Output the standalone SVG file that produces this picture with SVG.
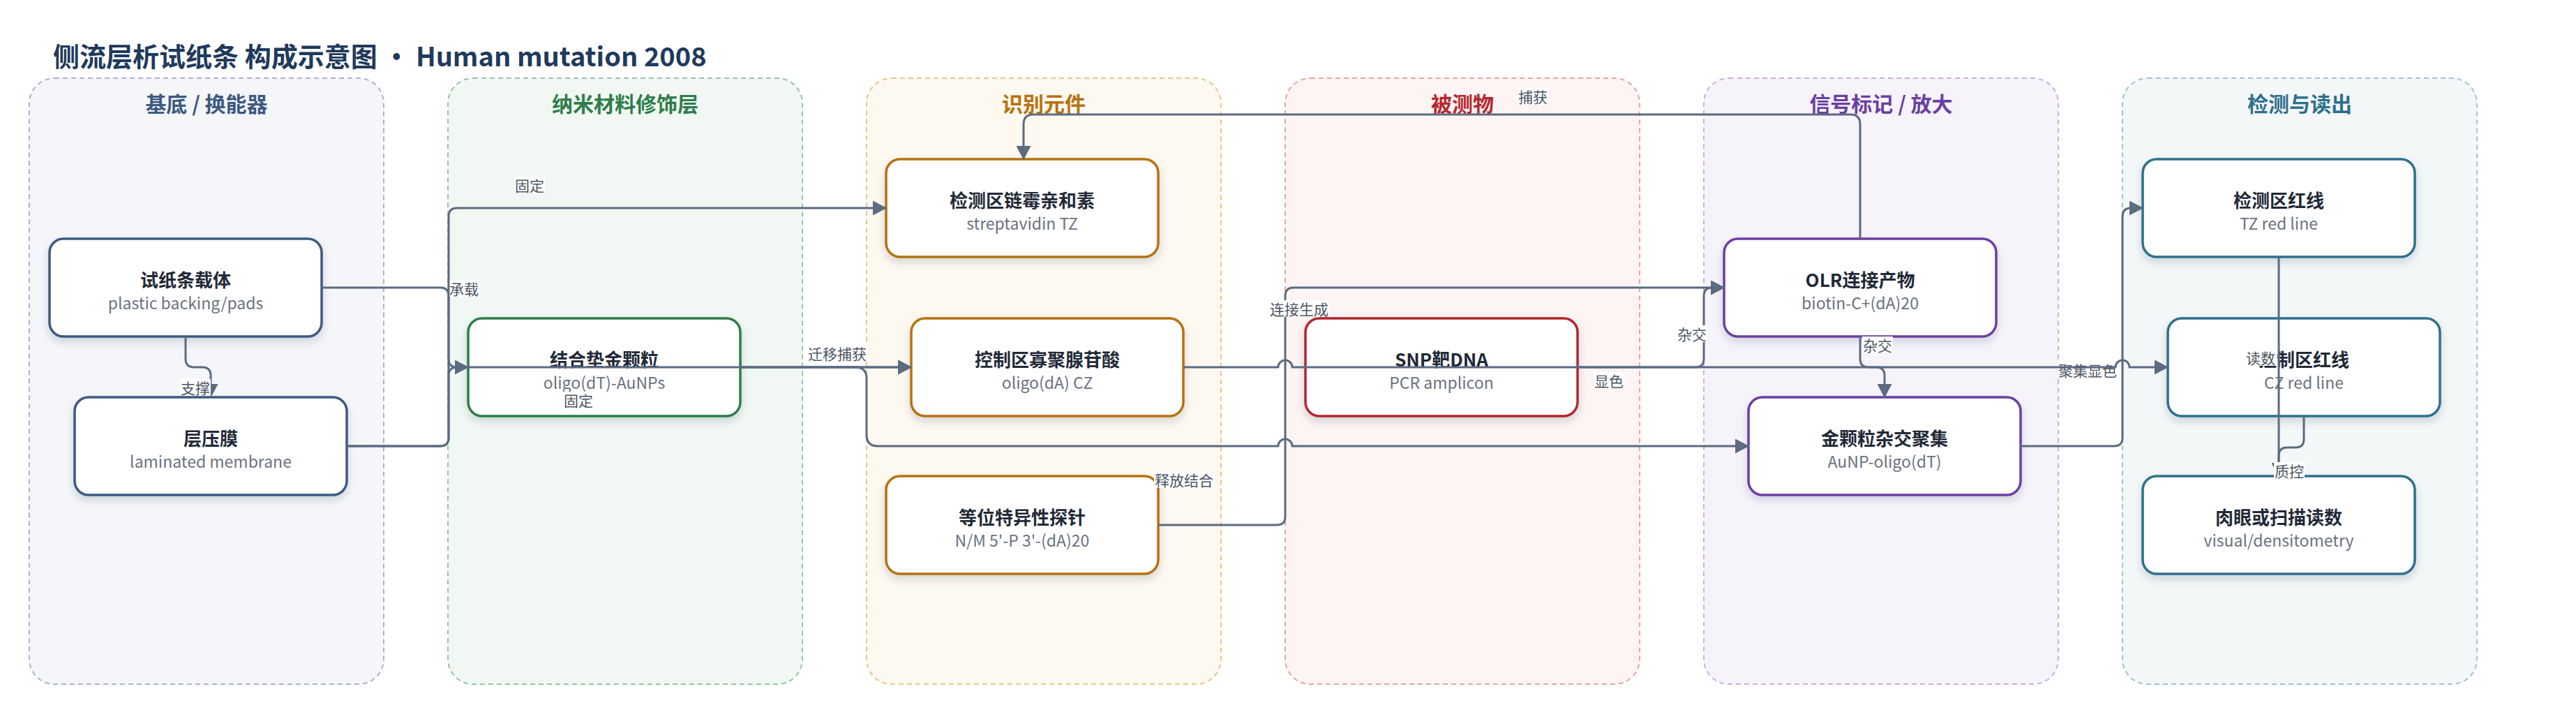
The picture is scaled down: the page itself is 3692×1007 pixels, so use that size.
<svg xmlns="http://www.w3.org/2000/svg" width="3692" height="1007" viewBox="0 0 3692 1007">
<defs>
<style>
text{font-family:"Noto Sans CJK SC","Noto Sans",sans-serif;}
.lane{stroke-width:2;stroke-dasharray:7 5;}
.lh{font-size:30px;font-weight:700;text-anchor:middle;dominant-baseline:central;}
.node rect{fill:#ffffff;stroke-width:3.5;filter:url(#sh);}
.t{font-size:26px;font-weight:700;fill:#1f2937;text-anchor:middle;dominant-baseline:central;}
.s{font-size:23px;fill:#6b7280;text-anchor:middle;dominant-baseline:central;}
.e{fill:none;stroke:#5b6b80;stroke-width:3;stroke-linejoin:round;}
.ea{marker-end:url(#ar);}
.lb rect{fill:#ffffff;}
.lb text{font-size:21px;fill:#4b5563;text-anchor:middle;dominant-baseline:central;}
</style>
<filter id="sh" x="-10%" y="-10%" width="120%" height="140%">
<feDropShadow dx="0" dy="6" stdDeviation="6" flood-color="#1e293b" flood-opacity="0.16"/>
</filter>
<marker id="ar" markerUnits="userSpaceOnUse" markerWidth="20" markerHeight="21" viewBox="0 0 20 21" refX="19" refY="10.5" orient="auto">
<path d="M0,0 L20,10.5 L0,21 z" fill="#5b6b80"/>
</marker>
</defs>
<rect width="3692" height="1007" fill="#ffffff"/>
<text x="76" y="78" font-size="38" font-weight="700" fill="#1f3a5c" dominant-baseline="central">侧流层析试纸条 构成示意图 · Human mutation 2008</text>

<g id="lanes">
<rect class="lane" x="42" y="112" width="508" height="868" rx="36" fill="#f4f6fa" stroke="#a9b5c8"/>
<text class="lh" x="296" y="147" fill="#3d5a80">基底 / 换能器</text>
<rect class="lane" x="642" y="112" width="508" height="868" rx="36" fill="#f1f8f3" stroke="#94c5a5"/>
<text class="lh" x="896" y="147" fill="#2e7d4a">纳米材料修饰层</text>
<rect class="lane" x="1242" y="112" width="508" height="868" rx="36" fill="#fdf8f0" stroke="#e9c68c"/>
<text class="lh" x="1496" y="147" fill="#b5720f">识别元件</text>
<rect class="lane" x="1842" y="112" width="508" height="868" rx="36" fill="#fdf4f3" stroke="#e8a3a3"/>
<text class="lh" x="2096" y="147" fill="#b3282d">被测物</text>
<rect class="lane" x="2442" y="112" width="508" height="868" rx="36" fill="#f7f3fb" stroke="#c9aee0"/>
<text class="lh" x="2696" y="147" fill="#6a3fa0">信号标记 / 放大</text>
<rect class="lane" x="3042" y="112" width="508" height="868" rx="36" fill="#f3f7f8" stroke="#9fc4d2"/>
<text class="lh" x="3296" y="147" fill="#2f6f8c">检测与读出</text>
</g>

<g id="node-backing" class="node"><rect x="71" y="342" width="390" height="140" rx="20" stroke="#3d5a80"/><text class="t" x="266" y="399">试纸条载体</text><text class="s" x="266" y="433">plastic backing/pads</text></g>
<g id="node-membrane" class="node"><rect x="107" y="569" width="390" height="140" rx="20" stroke="#3d5a80"/><text class="t" x="302" y="626">层压膜</text><text class="s" x="302" y="660">laminated membrane</text></g>
<g id="node-conjugate" class="node"><rect x="671" y="456" width="390" height="140" rx="20" stroke="#2e7d4a"/><text class="t" x="866" y="513">结合垫金颗粒</text><text class="s" x="866" y="547">oligo(dT)-AuNPs</text></g>
<g id="node-tz-sa" class="node"><rect x="1270" y="228" width="390" height="140" rx="20" stroke="#b5720f"/><text class="t" x="1465" y="285">检测区链霉亲和素</text><text class="s" x="1465" y="319">streptavidin TZ</text></g>
<g id="node-cz-oligo" class="node"><rect x="1306" y="456" width="390" height="140" rx="20" stroke="#b5720f"/><text class="t" x="1501" y="513">控制区寡聚腺苷酸</text><text class="s" x="1501" y="547">oligo(dA) CZ</text></g>
<g id="node-probe" class="node"><rect x="1270" y="682" width="390" height="140" rx="20" stroke="#b5720f"/><text class="t" x="1465" y="739">等位特异性探针</text><text class="s" x="1465" y="773">N/M 5'-P 3'-(dA)20</text></g>
<g id="node-snp" class="node"><rect x="1871" y="456" width="390" height="140" rx="20" stroke="#b3282d"/><text class="t" x="2066" y="513">SNP靶DNA</text><text class="s" x="2066" y="547">PCR amplicon</text></g>
<g id="node-olr" class="node"><rect x="2471" y="342" width="390" height="140" rx="20" stroke="#6a3fa0"/><text class="t" x="2666" y="399">OLR连接产物</text><text class="s" x="2666" y="433">biotin-C+(dA)20</text></g>
<g id="node-aggregate" class="node"><rect x="2506" y="569" width="390" height="140" rx="20" stroke="#6a3fa0"/><text class="t" x="2701" y="626">金颗粒杂交聚集</text><text class="s" x="2701" y="660">AuNP-oligo(dT)</text></g>
<g id="node-tz-line" class="node"><rect x="3071" y="228" width="390" height="140" rx="20" stroke="#2f6f8c"/><text class="t" x="3266" y="285">检测区红线</text><text class="s" x="3266" y="319">TZ red line</text></g>
<g id="node-cz-line" class="node"><rect x="3107" y="456" width="390" height="140" rx="20" stroke="#2f6f8c"/><text class="t" x="3302" y="513">控制区红线</text><text class="s" x="3302" y="547">CZ red line</text></g>
<g id="node-readout" class="node"><rect x="3071" y="682" width="390" height="140" rx="20" stroke="#2f6f8c"/><text class="t" x="3266" y="739">肉眼或扫描读数</text><text class="s" x="3266" y="773">visual/densitometry</text></g>

<g id="connectors">
<path class="e ea" d="M266,482 V514 Q266,526 278,526 H290 Q302,526 302,538 V569"/>
<g class="lb"><rect x="258" y="543" width="44" height="24"/><text x="280" y="555">支撑</text></g>
<path class="e ea" d="M461,412 H631 Q643,412 643,424 V514 Q643,526 655,526 H671"/>
<g class="lb"><rect x="643" y="401" width="44" height="24"/><text x="665" y="413">承载</text></g>
<path class="e ea" d="M497,639 H631 Q643,639 643,627 V310 Q643,298 655,298 H1270"/>
<g class="lb"><rect x="737" y="253" width="44" height="24"/><text x="759" y="265">固定</text></g>
<path class="e ea" d="M497,639 H631 Q643,639 643,627 V538 Q643,526 655,526 H1306"/>
<g class="lb"><rect x="807" y="561" width="44" height="24"/><text x="829" y="573">固定</text></g>
<path class="e ea" d="M1061,526 H1306"/>
<g class="lb"><rect x="1157" y="494" width="86" height="24"/><text x="1200" y="506">迁移捕获</text></g>
<path class="e ea" d="M1061,526 H1226 Q1242,526 1242,542 V623 Q1242,639 1258,639 H1832 A10,10 0 0 1 1852,639 H2506"/>
<path class="e ea" d="M1660,752 H1830 Q1842,752 1842,740 V424 Q1842,412 1854,412 H2471"/>
<g class="lb"><rect x="1819" y="430" width="86" height="24"/><text x="1862" y="442">连接生成</text></g>
<g class="lb"><rect x="1654" y="675" width="86" height="24"/><text x="1697" y="687">释放结合</text></g>
<path class="e ea" d="M2261,526 H2430 Q2442,526 2442,514 V424 Q2442,412 2454,412 H2471"/>
<g class="lb"><rect x="2403" y="466" width="44" height="24"/><text x="2425" y="478">杂交</text></g>
<path class="e ea" d="M2666,342 V178 Q2666,164 2652,164 H1481 Q1467,164 1467,178 V228"/>
<g class="lb"><rect x="2175" y="126" width="44" height="24"/><text x="2197" y="138">捕获</text></g>
<path class="e ea" d="M2666,482 V514 Q2666,526 2678,526 H2689 Q2701,526 2701,538 V569"/>
<g class="lb"><rect x="2669" y="482" width="44" height="24"/><text x="2691" y="494">杂交</text></g>
<path class="e ea" d="M2896,639 H3030 Q3042,639 3042,627 V310 Q3042,298 3054,298 H3071"/>
<g class="lb"><rect x="2949" y="518" width="86" height="24"/><text x="2992" y="530">聚集显色</text></g>
<path class="e ea" d="M1696,526 H1832 A10,10 0 0 1 1852,526 H3032 A10,10 0 0 1 3052,526 H3107"/>
<g class="lb"><rect x="2284" y="533" width="44" height="24"/><text x="2306" y="545">显色</text></g>
<path class="e ea" d="M3266,368 V682"/>
<g class="lb"><rect x="3218" y="500" width="44" height="24"/><text x="3240" y="512">读数</text></g>
<path class="e ea" d="M3302,596 V629 Q3302,641 3290,641 H3278 Q3266,641 3266,653 V682"/>
<g class="lb"><rect x="3259" y="662" width="44" height="24"/><text x="3281" y="674">质控</text></g>
</g>
</svg>
